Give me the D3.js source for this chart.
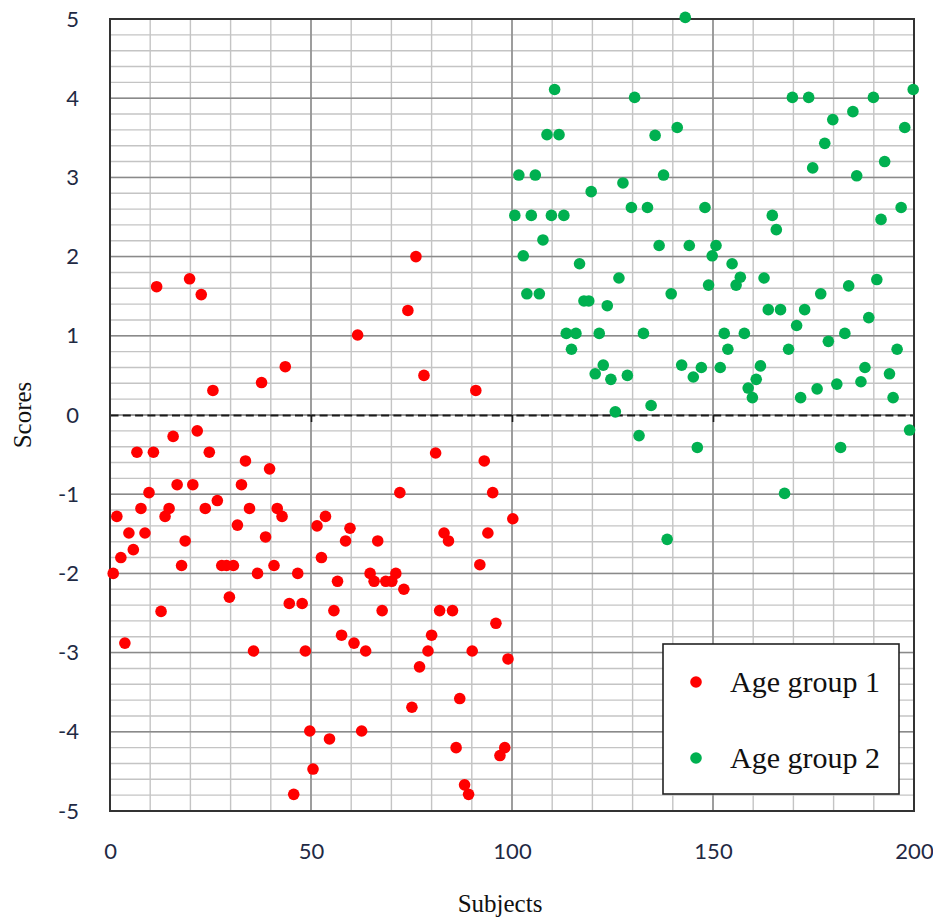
<!DOCTYPE html>
<html>
<head>
<meta charset="utf-8">
<script src="https://cdn.jsdelivr.net/npm/d3@7"></script>
<style>
  html, body { margin: 0; padding: 0; background: #ffffff; }
  svg { display: block; }
</style>
</head>
<body>
<svg id="chart" width="933" height="918"></svg>
<script>
// Age group 1: subject number and score
const group1X = [0.8, 1.7, 2.7, 3.7, 4.7, 5.8, 6.7, 7.7, 8.7, 9.7,
  10.8, 11.6, 12.7, 13.7, 14.7, 15.7, 16.7, 17.8, 18.7, 19.8,
  20.6, 21.7, 22.7, 23.7, 24.7, 25.6, 26.7, 27.8, 29.0, 29.7,
  30.7, 31.7, 32.7, 33.7, 34.7, 35.7, 36.7, 37.7, 38.7, 39.7,
  40.8, 41.6, 42.8, 43.6, 44.6, 45.7, 46.7, 47.8, 48.6, 49.7,
  50.5, 51.5, 52.6, 53.6, 54.6, 55.7, 56.6, 57.6, 58.6, 59.7,
  60.7, 61.6, 62.6, 63.6, 64.7, 65.7, 66.6, 67.7, 68.6, 70.1,
  71.1, 72.1, 73.1, 74.1, 75.1, 76.1, 77.0, 78.1, 79.1, 80.0,
  81.0, 82.0, 83.1, 84.2, 85.2, 86.1, 87.0, 88.2, 89.2, 90.1,
  91.0, 92.0, 93.1, 94.0, 95.2, 96.0, 97.0, 98.2, 99.0, 100.2];
const group1Y = [-2.0, -1.28, -1.80, -2.88, -1.49, -1.70, -0.47, -1.18, -1.49, -0.98,
  -0.47, 1.62, -2.48, -1.28, -1.18, -0.27, -0.88, -1.90, -1.59, 1.72,
  -0.88, -0.20, 1.52, -1.18, -0.47, 0.31, -1.08, -1.90, -1.90, -2.30,
  -1.90, -1.39, -0.88, -0.58, -1.18, -2.98, -2.0, 0.41, -1.54, -0.68,
  -1.90, -1.18, -1.28, 0.61, -2.38, -4.79, -2.0, -2.38, -2.98, -3.99,
  -4.47, -1.40, -1.80, -1.28, -4.09, -2.47, -2.10, -2.78, -1.59, -1.43,
  -2.88, 1.01, -3.99, -2.98, -2.0, -2.10, -1.59, -2.47, -2.10, -2.10,
  -2.0, -0.98, -2.20, 1.32, -3.69, 2.0, -3.18, 0.50, -2.98, -2.78,
  -0.48, -2.47, -1.49, -1.59, -2.47, -4.20, -3.58, -4.67, -4.79, -2.98,
  0.31, -1.89, -0.58, -1.49, -0.98, -2.63, -4.30, -4.20, -3.08, -1.31];

// Age group 2: subject number and score
const group2X = [100.7, 101.7, 102.8, 103.7, 104.8, 105.8, 106.8, 107.7, 108.7, 109.8,
  110.6, 111.7, 112.9, 113.5, 114.8, 115.9, 116.8, 117.9, 119.1, 119.7,
  120.7, 121.7, 122.7, 123.7, 124.6, 125.7, 126.6, 127.6, 128.7, 129.7,
  130.5, 131.6, 132.7, 133.7, 134.6, 135.6, 136.6, 137.7, 138.6, 139.6,
  141.1, 142.2, 143.1, 144.1, 145.1, 146.1, 147.1, 148.0, 148.9, 149.8,
  150.75, 151.8, 152.8, 153.7, 154.75, 155.75, 156.8, 157.8, 158.75, 159.8,
  160.75, 161.8, 162.7, 163.75, 164.75, 165.75, 166.8, 167.8, 168.8, 169.75,
  170.8, 171.8, 172.8, 173.8, 174.8, 175.9, 176.8, 177.8, 178.7, 179.8,
  180.8, 181.75, 182.8, 183.75, 184.8, 185.75, 186.8, 187.8, 188.75, 189.9,
  190.75, 191.8, 192.7, 193.9, 194.8, 195.8, 196.8, 197.7, 198.9, 199.8];
const group2Y = [2.52, 3.03, 2.01, 1.53, 2.52, 3.03, 1.53, 2.21, 3.54, 2.52,
  4.11, 3.54, 2.52, 1.03, 0.83, 1.03, 1.91, 1.44, 1.44, 2.82,
  0.52, 1.03, 0.63, 1.38, 0.45, 0.04, 1.73, 2.93, 0.50, 2.62,
  4.01, -0.26, 1.03, 2.62, 0.12, 3.53, 2.14, 3.03, -1.57, 1.53,
  3.63, 0.63, 5.02, 2.14, 0.48, -0.41, 0.60, 2.62, 1.64, 2.01,
  2.14, 0.60, 1.03, 0.83, 1.91, 1.64, 1.74, 1.03, 0.34, 0.22,
  0.45, 0.62, 1.73, 1.33, 2.52, 2.34, 1.33, -0.99, 0.83, 4.01,
  1.13, 0.22, 1.33, 4.01, 3.12, 0.33, 1.53, 3.43, 0.93, 3.73,
  0.39, -0.41, 1.03, 1.63, 3.83, 3.02, 0.42, 0.60, 1.23, 4.01,
  1.71, 2.47, 3.20, 0.52, 0.22, 0.83, 2.62, 3.63, -0.19, 4.11];

const xTicks = [0, 50, 100, 150, 200];
const yTicks = [-5, -4, -3, -2, -1, 0, 1, 2, 3, 4, 5];
const seriesNames = ["Age group 1", "Age group 2"];
const seriesColors = ["#ff0000", "#00b050"];
const xTitle = "Subjects";
const yTitle = "Scores";

const svg = d3.select("#chart");
const x = d3.scaleLinear().domain([0, 200]).range([110, 914]);
const y = d3.scaleLinear().domain([-5, 5]).range([811, 19]);

const labelFont = "Lato, 'Liberation Sans', sans-serif";
const serifFont = "'Liberation Serif', 'Times New Roman', serif";

// plot background
svg.append("rect")
  .attr("x", x(0)).attr("y", y(5))
  .attr("width", x(200) - x(0)).attr("height", y(-5) - y(5))
  .attr("fill", "#ffffff");

// minor gridlines
const grid = svg.append("g");
grid.selectAll("line.vminor").data(x.ticks(20)).join("line")
  .attr("x1", d => x(d)).attr("x2", d => x(d))
  .attr("y1", y(5)).attr("y2", y(-5))
  .attr("stroke", "#c4c4c4").attr("stroke-width", 1.4);
grid.selectAll("line.hminor").data(y.ticks(50)).join("line")
  .attr("x1", x(0)).attr("x2", x(200))
  .attr("y1", d => y(d)).attr("y2", d => y(d))
  .attr("stroke", "#c4c4c4").attr("stroke-width", 1.4);

// major gridlines
grid.selectAll("line.vmajor").data(xTicks).join("line")
  .attr("x1", d => x(d)).attr("x2", d => x(d))
  .attr("y1", y(5)).attr("y2", y(-5))
  .attr("stroke", "#8a8a8a").attr("stroke-width", 1.5);
grid.selectAll("line.hmajor").data(yTicks).join("line")
  .attr("x1", x(0)).attr("x2", x(200))
  .attr("y1", d => y(d)).attr("y2", d => y(d))
  .attr("stroke", "#8a8a8a").attr("stroke-width", 1.5);

// horizontal axis crossing at zero: dashed line with short ticks
const zeroAxis = svg.append("g")
  .attr("transform", `translate(0,${y(0)})`)
  .call(d3.axisBottom(x).tickValues(xTicks.slice(1, 4)).tickSize(7).tickSizeOuter(0).tickFormat(""));
zeroAxis.select(".domain")
  .attr("stroke", "#1a1a1a").attr("stroke-width", 2)
  .attr("stroke-dasharray", "8,4.3");
zeroAxis.selectAll(".tick line").attr("stroke", "#1a1a1a").attr("stroke-width", 1.6);

// frame
svg.append("rect")
  .attr("x", x(0)).attr("y", y(5))
  .attr("width", x(200) - x(0)).attr("height", y(-5) - y(5))
  .attr("fill", "none").attr("stroke", "#333333").attr("stroke-width", 2);

// tick labels
const xAxis = svg.append("g")
  .attr("transform", `translate(0,${y(-5)})`)
  .call(d3.axisBottom(x).tickValues(xTicks).tickSize(0).tickPadding(32).tickFormat(d => String(d)));
xAxis.select(".domain").remove();
xAxis.selectAll("text").attr("font-family", labelFont).attr("font-size", 22).attr("fill", "#1f2a44");

const yAxis = svg.append("g")
  .attr("transform", `translate(${x(0)},0)`)
  .call(d3.axisLeft(y).tickValues(yTicks).tickSize(0).tickPadding(31).tickFormat(d => String(d)));
yAxis.select(".domain").remove();
yAxis.selectAll("text").attr("font-family", labelFont).attr("font-size", 22).attr("fill", "#1f2a44");

// axis titles
svg.append("text")
  .attr("x", 500).attr("y", 912)
  .attr("text-anchor", "middle")
  .attr("font-family", serifFont).attr("font-size", 25).attr("fill", "#111")
  .text(xTitle);
svg.append("text")
  .attr("transform", `translate(31,${y(0)}) rotate(-90)`)
  .attr("text-anchor", "middle")
  .attr("font-family", serifFont).attr("font-size", 25).attr("fill", "#111")
  .text(yTitle);

// points
const series = [
  group1X.map((v, i) => ({ x: v, y: group1Y[i] })),
  group2X.map((v, i) => ({ x: v, y: group2Y[i] }))
];
series.forEach((pts, s) => {
  svg.append("g").selectAll("circle").data(pts).join("circle")
    .attr("cx", d => x(d.x)).attr("cy", d => y(d.y))
    .attr("r", 5.8)
    .attr("fill", seriesColors[s]);
});

// legend
const legend = svg.append("g").attr("transform", "translate(663,644)");
legend.append("rect")
  .attr("width", 236).attr("height", 150)
  .attr("fill", "#ffffff").attr("stroke", "#222222").attr("stroke-width", 1.6);
seriesNames.forEach((name, i) => {
  const row = legend.append("g").attr("transform", `translate(0,${38 + i * 76})`);
  row.append("circle").attr("cx", 33).attr("cy", 0).attr("r", 5.8).attr("fill", seriesColors[i]);
  row.append("text")
    .attr("x", 67).attr("y", 10)
    .attr("font-family", serifFont).attr("font-size", 30).attr("fill", "#111")
    .text(name);
});
</script>
</body>
</html>
